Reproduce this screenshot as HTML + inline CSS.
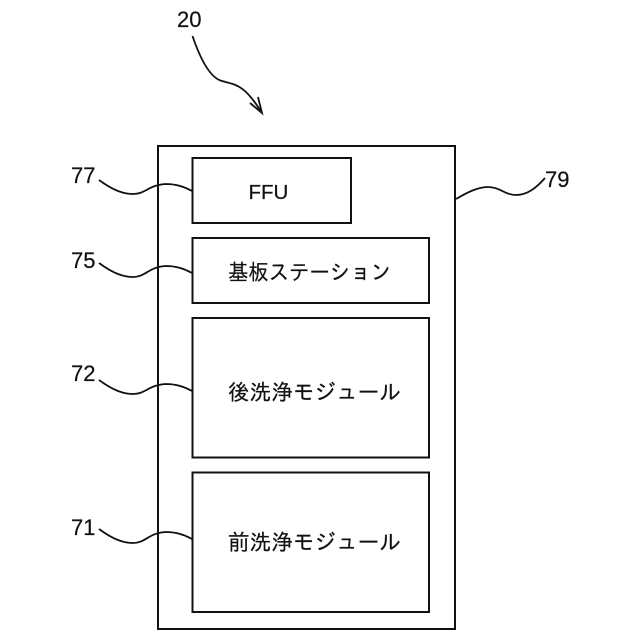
<!DOCTYPE html>
<html><head><meta charset="utf-8"><style>
html,body{margin:0;padding:0;background:#fff}
svg{display:block}
text{fill:#111;stroke:#111;stroke-width:.2;font-family:"Liberation Sans","Noto Sans CJK JP",sans-serif}
.n{font-size:22px}
.j{font-size:22px;font-family:"Liberation Sans","IPAGothic","Noto Sans CJK JP",sans-serif}
</style></head><body>
<svg width="640" height="640" viewBox="0 0 640 640" xmlns="http://www.w3.org/2000/svg">
<g fill="none" stroke="#111" stroke-width="2">
<rect x="158" y="146" width="297" height="483"/>
<rect x="192.500" y="158" width="158.500" height="65"/>
<rect x="192.500" y="238" width="236.500" height="65"/>
<rect x="192.500" y="318" width="236.500" height="139.500"/>
<rect x="192.500" y="472.500" width="236.500" height="139.500"/>
<g stroke-width="1.800">
<path d="M192.500 36 C200 58 210 78 222 81 C236 85 244 84 262 113"/>
<path d="M250 103 L262 113 L258 97"/>
<path d="M99 180 C114 191 124 194 133 194 C146 194 148 185 166 184 C176 184 185 187 192 191"/>
<path d="M99 263 C114 274 124 277 133 277 C146 277 148 267 166 266 C176 266 185 269 192 273"/>
<path d="M99 380 C114 391 124 394 133 394 C146 394 148 385 166 384 C176 384 185 387 192 391"/>
<path d="M99 529 C114 540 124 543 133 543 C146 543 148 533 166 532 C176 532 185 535 192 539"/>
<path d="M456 199 C468 192 478 187 488 187 C500 187 505 195 516 195 C528 195 537 187 545 178"/>
</g>
</g>
<text class="n" x="177" y="27">20</text>
<text class="n" x="71" y="183">77</text>
<text class="n" x="71" y="268">75</text>
<text class="n" x="71" y="381">72</text>
<text class="n" x="71" y="535">71</text>
<text class="n" x="545" y="187">79</text>
<text x="248.500" y="199" font-size="20.500">FFU</text>
<text class="j" x="228" y="280" textLength="163" lengthAdjust="spacingAndGlyphs">基板ステーション</text>
<text class="j" x="228" y="400" textLength="173" lengthAdjust="spacingAndGlyphs">後洗浄モジュール</text>
<text class="j" x="228" y="550" textLength="173" lengthAdjust="spacingAndGlyphs">前洗浄モジュール</text>
</svg>
</body></html>
